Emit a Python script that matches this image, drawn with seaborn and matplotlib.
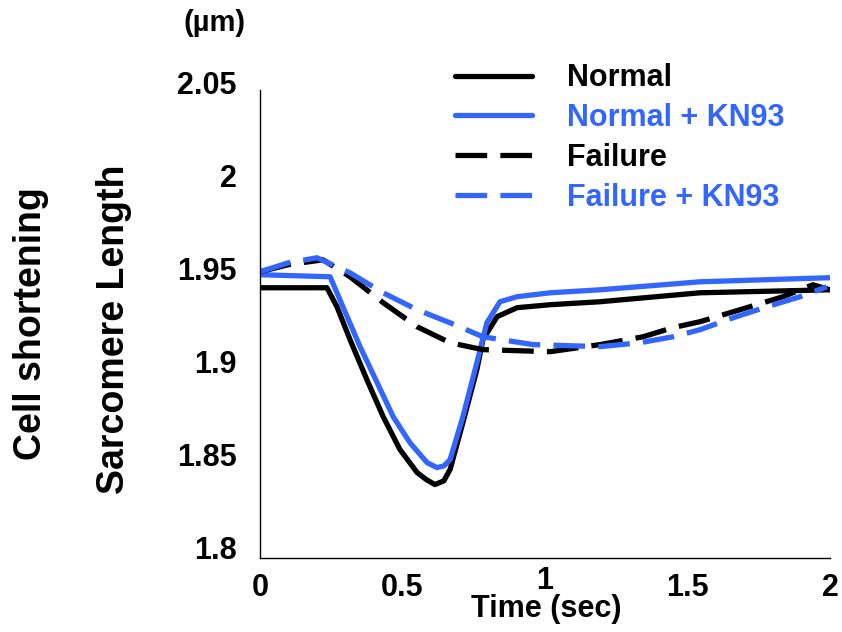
import matplotlib
matplotlib.use("Agg")
import matplotlib.pyplot as plt
import matplotlib.transforms as mtransforms
import seaborn as sns
import pandas as pd
from matplotlib.lines import Line2D

# ---- data ----
t_normal = [0, 0.235, 0.27, 0.316, 0.375, 0.432, 0.491, 0.551, 0.585, 0.614, 0.645,
            0.667, 0.712, 0.761, 0.782, 0.832, 0.902, 1.018, 1.193, 1.544, 2.0]
y_normal = [1.9396, 1.9396, 1.9294, 1.9117, 1.8903, 1.8705, 1.8528, 1.8405, 1.8365,
            1.8340, 1.8360, 1.8421, 1.8673, 1.8957, 1.9117, 1.9241, 1.9289, 1.9305,
            1.9321, 1.9369, 1.9385]

t_normal_kn = [0, 0.246, 0.291, 0.351, 0.411, 0.467, 0.526, 0.586, 0.621, 0.645, 0.667,
               0.712, 0.761, 0.796, 0.842, 0.902, 1.018, 1.193, 1.544, 2.0]
y_normal_kn = [1.9466, 1.9455, 1.9294, 1.9080, 1.8887, 1.8705, 1.8565, 1.8458, 1.8431,
               1.8440, 1.8474, 1.8705, 1.8994, 1.9208, 1.9321, 1.9348, 1.9369, 1.9385,
               1.9428, 1.9450]

t_failure = [0, 0.1, 0.221, 0.316, 0.432, 0.551, 0.667, 0.782, 1.018, 1.193, 1.344,
             1.449, 1.544, 1.684, 1.835, 1.94, 2.0]
y_failure = [1.9482, 1.9520, 1.9546, 1.9455, 1.9316, 1.9187, 1.9101, 1.9064, 1.9053,
             1.9091, 1.9133, 1.9182, 1.9214, 1.9278, 1.9348, 1.9412, 1.9385]

t_failure_kn = [0, 0.1, 0.2, 0.316, 0.432, 0.551, 0.667, 0.782, 0.958, 1.193, 1.333,
                1.449, 1.544, 1.66, 1.779, 1.895, 1.989]
y_failure_kn = [1.9482, 1.9530, 1.9557, 1.9476, 1.9369, 1.9278, 1.9208, 1.9133, 1.9091,
                1.9080, 1.9101, 1.9133, 1.9171, 1.9235, 1.9294, 1.9348, 1.9401]

series_names = ["Normal", "Normal + KN93", "Failure", "Failure + KN93"]
x_ticks = [0, 0.5, 1, 1.5, 2]
x_tick_labels = ["0", "0.5", "1", "1.5", "2"]
y_ticks = [1.8, 1.85, 1.9, 1.95, 2.0, 2.05]
y_tick_labels = ["1.8", "1.85", "1.9", "1.95", "2", "2.05"]

BLUE = "#3366ff"
palette = {"Normal": "black", "Normal + KN93": BLUE, "Failure": "black", "Failure + KN93": BLUE}
dash_spec = {"Normal": "", "Normal + KN93": "", "Failure": (6, 2.5), "Failure + KN93": (6, 2.5)}

frames = []
for name, t, y in zip(series_names,
                      [t_normal, t_normal_kn, t_failure, t_failure_kn],
                      [y_normal, y_normal_kn, y_failure, y_failure_kn]):
    frames.append(pd.DataFrame({"time": t, "length": y, "group": name}))
df = pd.concat(frames, ignore_index=True)

sns.set_theme(style="white")
plt.rcParams["font.family"] = ["Liberation Sans", "DejaVu Sans"]
plt.rcParams["font.weight"] = "bold"
for k in ["text.color", "axes.labelcolor", "xtick.color", "ytick.color"]:
    plt.rcParams[k] = "black"

fig = plt.figure(figsize=(8.42, 6.32), dpi=100)
ax = fig.add_axes([260 / 842, 1 - 558 / 632, 570 / 842, 476 / 632])

sns.lineplot(data=df, x="time", y="length", hue="group", style="group",
             hue_order=series_names, style_order=series_names,
             palette=palette, dashes=dash_spec, estimator=None, sort=False,
             linewidth=3.8, legend=False, ax=ax)
for ln in ax.lines:
    ln.set_solid_joinstyle("round")
    ln.set_dash_joinstyle("round")

ax.set_xlim(0, 2)
ax.set_ylim(1.7946, 2.05)
for s in ["top", "right"]:
    ax.spines[s].set_visible(False)
for s in ["left", "bottom"]:
    ax.spines[s].set_color("black")
    ax.spines[s].set_linewidth(1.0)
ax.spines["left"].set_bounds(1.7946, 2.0457)

ax.set_xticks(x_ticks)
ax.set_xticklabels(x_tick_labels, fontsize=22, fontweight="bold", color="black")
ax.set_yticks(y_ticks)
ax.set_yticklabels(y_tick_labels, fontsize=22, fontweight="bold", color="black")
ax.tick_params(axis="both", length=0)
ax.tick_params(axis="x", pad=11)
ax.tick_params(axis="y", pad=17)
ax.set_xlabel("")
ax.set_ylabel("")

# the "1" tick label sits a little higher in the reference
lab_one = ax.get_xticklabels()[2]
lab_one.set_transform(lab_one.get_transform() +
                      mtransforms.ScaledTranslation(0, 7 / 100, fig.dpi_scale_trans))

# legend
handles = []
for name in series_names:
    ls = "-" if dash_spec[name] == "" else (0, dash_spec[name])
    handles.append(Line2D([0], [0], color=palette[name], linewidth=3.8, linestyle=ls))
leg = ax.legend(handles, series_names, loc="upper left",
                bbox_to_anchor=((443 - 260) / 570, 1.065), frameon=False,
                prop={"family": "Liberation Sans", "weight": "bold", "size": 22},
                handlelength=2.5, handletextpad=1.15, labelspacing=0.32,
                labelcolor="linecolor", borderaxespad=0)

fig.text(215 / 842, 1 - 23 / 632, "(µm)", ha="center", va="center",
         fontsize=21, fontweight="bold", color="black")
fig.text(31 / 842, 1 - 324 / 632, "Cell shortening", rotation=90, ha="center",
         va="center", fontsize=27, fontweight="bold", color="black")
fig.text(114 / 842, 1 - 329 / 632, "Sarcomere Length", rotation=90, ha="center",
         va="center", fontsize=27, fontweight="bold", color="black")
fig.text(546 / 842, 1 - 609 / 632, "Time (sec)", ha="center", va="center",
         fontsize=22, fontweight="bold", color="black")

fig.savefig("out.png", dpi=100)
